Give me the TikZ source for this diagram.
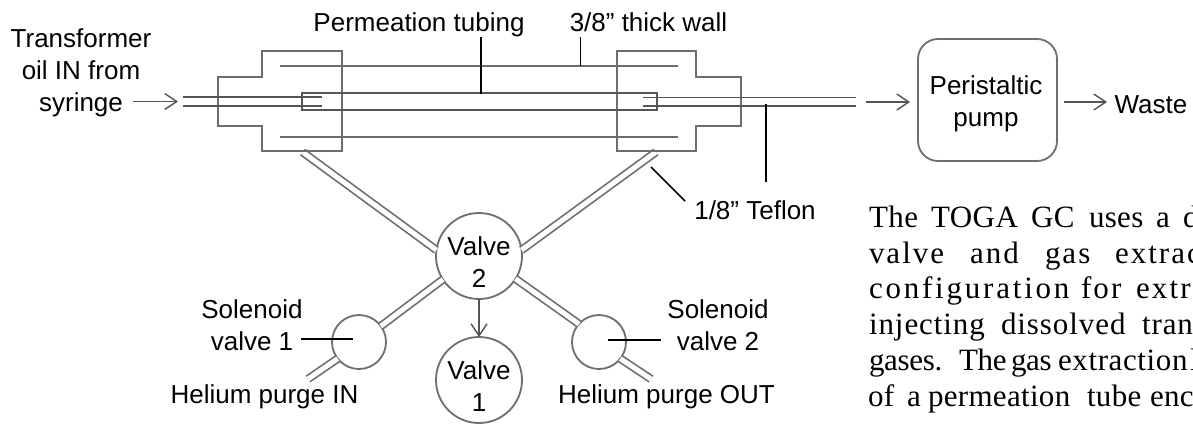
\documentclass[tikz,border=0pt]{standalone}
\usepackage{fontspec}
\setmainfont{Liberation Sans}
\newfontfamily\tms{Liberation Serif}
\usetikzlibrary{arrows.meta}
\definecolor{pipe}{HTML}{6E6E6E}
\definecolor{darkpipe}{HTML}{555555}
\newcommand{\wrd}[5]{\node[para] (#1) at (#2,#3) {\addfontfeatures{LetterSpace=#4}#5};}
\tikzset{
  x=1pt,y=-1pt,
  lab/.style={inner sep=0pt,outer sep=0pt,align=center,font=\fontsize{26}{32}\selectfont},
  labbase/.style={lab,anchor=base},
  para/.style={inner sep=0pt,outer sep=0pt,anchor=base west,font=\tms\fontsize{31}{36}\selectfont},
  fitting/.style={draw=pipe,line width=1.8pt,line join=miter},
  wall/.style={draw=pipe,line width=1.9pt},
  inner tube/.style={draw=darkpipe,line width=1.9pt},
  teflon/.style={draw=pipe,line width=1.7pt,double=white,double distance=5pt},
  leader/.style={draw=black,line width=1.7pt},
  flow/.style={draw=darkpipe,line width=1.7pt,-{Straight Barb[length=12pt,width=16pt,line width=1.4pt]}},
  valve/.style={circle,draw=pipe,line width=1.8pt,fill=white,inner sep=0pt,outer sep=0pt,minimum size=#1},
  pumpbox/.style={rectangle,rounded corners=20pt,draw=pipe,line width=1.8pt,fill=white,inner sep=0pt,outer sep=0pt,minimum width=139pt,minimum height=122pt}
}
\begin{document}
\begin{tikzpicture}
\useasboundingbox[fill=white] (0,0) rectangle (1193,424);
% named points
\coordinate (oilInA) at (133,101.5);
\coordinate (oilInB) at (178,101.5);
\coordinate (pumpInA) at (866,102);
\coordinate (pumpOutB) at (1107,102);
\coordinate (lfPort) at (302.5,152);
\coordinate (rfPort) at (656,152);
\coordinate (heIn) at (308,379);
\coordinate (heOut) at (651,379);
\coordinate (permTop) at (481,37);
\coordinate (permEnd) at (481,94);
\coordinate (wallTop) at (580.5,37);
\coordinate (wallEnd) at (580.5,66);
\coordinate (tefTop) at (766,104);
\coordinate (tefBot) at (766,182);
\coordinate (tefA) at (651,167);
\coordinate (tefB) at (685,201);
% valves and pump
\node[valve=86pt] (v2) at (479,256) {};
\node[valve=86pt] (v1) at (479,380) {};
\node[valve=54pt] (s1) at (359,342) {};
\node[valve=54pt] (s2) at (599,342) {};
\node[pumpbox] (pump) at (987.5,100) {};
% teflon lines
\draw[teflon] (lfPort) -- (v2.172);
\draw[teflon] (rfPort) -- (v2.8);
\draw[teflon] (s1.36) -- (v2.213);
\draw[teflon] (s2.138) -- (v2.-32);
\draw[teflon] (heIn) -- (s1.218);
\draw[teflon] (heOut) -- (s2.-38);
% fittings
\draw[fitting] (262,51) -- (342,51) -- (342,151) -- (262,151) -- (262,126) -- (218,126) -- (218,77) -- (262,77) -- cycle;
\draw[fitting] (617,51) -- (696,51) -- (696,77) -- (741,77) -- (741,126) -- (696,126) -- (696,151) -- (617,151) -- cycle;
% tubes
\draw[wall] (280,66) -- (678,66);
\draw[wall] (280,137) -- (678,137);
\draw[inner tube] (302,93) rectangle (657,110);
\draw[inner tube] (183,97) -- (322,97);
\draw[inner tube] (183,106) -- (322,106);
\draw[inner tube] (643,97.5) -- (856,97.5);
\draw[inner tube] (643,106) -- (856,106);
% arrows
\draw[flow,shorten >=8pt] (pumpInA) -- (pump.west |- pumpInA);
\draw[flow] (oilInA) -- (oilInB);
\draw[flow,shorten <=7pt] (pump.east |- pumpOutB) -- (pumpOutB);
\draw[flow] (v2.south) -- (v1.north);
% leaders
\draw[leader] (permTop) -- (permEnd);
\draw[leader] (wallTop) -- (wallEnd);
\draw[leader] (tefTop) -- (tefBot);
\draw[leader] (tefA) -- (tefB);
\coordinate (s1L) at (301,339);
\coordinate (s1R) at (353,339);
\coordinate (s2L) at (608,340);
\coordinate (s2R) at (661,340);
\draw[leader] (s1L) -- (s1R);
\draw[leader] (s2L) -- (s2R);
% labels
\node[lab] (oil) at (81,73) {Transformer\\oil IN from\\syringe};
\node[labbase] (perm) at (419,31) {Permeation tubing};
\node[labbase] (wallt) at (648.5,31) {3/8” thick wall};
\node[labbase] (tef) at (755,219) {1/8” Teflon};
\node[labbase] (waste) at (1151,113) {Waste};
\node[lab] (pumpt) at (986,104) {Peristaltic\\pump};
\node[lab] (v2t) at (479,262.5) {Valve\\2};
\node[lab] (v1t) at (479,386.5) {Valve\\1};
\node[lab] (s1t) at (252,325.5) {Solenoid\\valve 1};
\node[lab] (s2t) at (718,325.5) {Solenoid\\valve 2};
\node[labbase] (hin) at (264.5,403) {Helium purge IN};
\node[labbase] (hout) at (666.5,403) {Helium purge OUT};
% cut-off paragraph
\begin{scope}
\clip (860,200) rectangle (1193,424);
\wrd{a1}{869}{227}{1.5}{The}
\wrd{a2}{931}{227}{1.5}{TOGA}
\wrd{a3}{1031}{227}{1.5}{GC}
\wrd{a4}{1089}{227}{1}{uses}
\wrd{a5}{1156}{227}{1}{a}
\wrd{a6}{1183}{227}{1}{d}
\wrd{b1}{869}{263}{6.5}{valve}
\wrd{b2}{970}{263}{6.5}{and}
\wrd{b3}{1045}{263}{6.5}{gas}
\wrd{b4}{1115}{263}{6.5}{extrac}
\wrd{c1}{869}{298}{9}{configuration}
\wrd{c2}{1081}{298}{7}{for}
\wrd{c3}{1136}{298}{7}{extr}
\wrd{d1}{869}{334}{3}{injecting}
\wrd{d2}{1001}{334}{3}{dissolved}
\wrd{d3}{1142}{334}{3}{tran}
\wrd{e1}{869}{370}{-1}{gases.}
\wrd{e2}{959}{370}{-1}{The}
\wrd{e3}{1011}{370}{-1}{gas}
\wrd{e4}{1058}{370}{2}{extraction}
\wrd{e5}{1190}{370}{0}{l}
\wrd{f1}{868}{406}{1}{of}
\wrd{f2}{907}{406}{1}{a}
\wrd{f3}{928}{406}{1}{permeation}
\wrd{f4}{1087}{406}{1}{tube}
\wrd{f5}{1150}{406}{1}{enc}
\end{scope}
\end{tikzpicture}
\end{document}
